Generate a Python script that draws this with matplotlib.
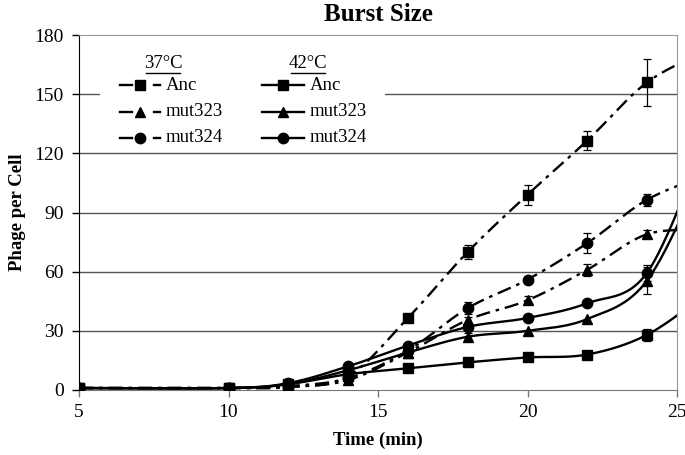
import numpy as np
import matplotlib
matplotlib.use("Agg")
import matplotlib.pyplot as plt
from matplotlib.lines import Line2D
from matplotlib.patches import Rectangle

plt.rcParams['font.family'] = ['Liberation Serif', 'DejaVu Serif']

# time points (min); the last point lies past the axis and only shapes the curve
time = [5, 10, 12, 14, 16, 18, 20, 22, 24, 26]

# 37°C
anc_37 = [1, 1, 1.5, 7, 36.5, 70, 99, 126.5, 156, 172]
mut323_37 = [1, 1, 1.5, 5, 19, 35.5, 45.5, 61, 79, 81]
mut324_37 = [1, 1, 2, 6, 20, 41.5, 56, 74.5, 96.5, 109]
anc_37_err = [0, 0, 0, 0, 1.5, 3.5, 5, 5, 12, 0]
mut323_37_err = [0, 0, 0, 0, 0, 1.5, 2, 3, 2, 0]
mut324_37_err = [0, 0, 0, 0, 0, 3, 1.5, 5, 3, 0]

# 42°C
anc_42 = [1, 1, 3, 8, 11, 14, 16.5, 18, 28, 49]
mut323_42 = [1, 1, 3, 10, 19, 27, 30, 36, 55.5, 116]
mut324_42 = [1, 1, 3.5, 12, 22.5, 32, 36.5, 44, 59.5, 128]
anc_42_err = [0, 0, 0, 0, 0, 0, 0, 0, 3, 0]
mut323_42_err = [0, 0, 0, 0, 0, 2, 0, 0, 7, 0]
mut324_42_err = [0, 0, 0, 0, 0, 0, 0, 0, 4, 0]


def smooth(x, y, n=30):
    # Excel-style smoothed line (Bezier with Catmull-Rom tangents)
    x = np.asarray(x, float)
    y = np.asarray(y, float)
    px = np.concatenate([[x[0]], x, [x[-1]]])
    py = np.concatenate([[y[0]], y, [y[-1]]])
    xs, ys = [], []
    t = np.linspace(0, 1, n)
    for i in range(1, len(px) - 2):
        p0 = np.array([px[i - 1], py[i - 1]])
        p1 = np.array([px[i], py[i]])
        p2 = np.array([px[i + 1], py[i + 1]])
        p3 = np.array([px[i + 2], py[i + 2]])
        c1 = p1 + (p2 - p0) / 6
        c2 = p2 - (p3 - p1) / 6
        b = ((1 - t) ** 3)[:, None] * p1 + (3 * (1 - t) ** 2 * t)[:, None] * c1 \
            + (3 * (1 - t) * t ** 2)[:, None] * c2 + (t ** 3)[:, None] * p2
        xs.append(b[:, 0])
        ys.append(b[:, 1])
    return np.concatenate(xs), np.concatenate(ys)


fig = plt.figure(figsize=(6.85, 4.55), dpi=100)
ax = fig.add_axes([79 / 685, 1 - 390 / 455, 598 / 685, 355 / 455])

dashdot = (0, (6, 2.5, 1.5, 2.5))
series = [
    (anc_37, anc_37_err, 's', dashdot),
    (mut323_37, mut323_37_err, '^', dashdot),
    (mut324_37, mut324_37_err, 'o', dashdot),
    (anc_42, anc_42_err, 's', '-'),
    (mut323_42, mut323_42_err, '^', '-'),
    (mut324_42, mut324_42_err, 'o', '-'),
]
for vals, err, mk, ls in series:
    sx, sy = smooth(time, vals)
    ax.plot(sx, sy, color='black', lw=1.7, linestyle=ls, zorder=3)
    e = np.array(err, float)
    ax.errorbar(time, vals, yerr=np.where(e > 0, e, np.nan), fmt=mk, color='black',
                ms=7.5, ecolor='black', elinewidth=0.9, capsize=3, capthick=0.9,
                zorder=4)

ax.set_xlim(5, 25)
ax.set_ylim(0, 180)
ax.set_xticks([5, 10, 15, 20, 25])
ax.set_yticks(range(0, 181, 30))
for yv in range(30, 151, 30):
    ax.axhline(yv, color='#555555', lw=1.0, zorder=1)
ax.tick_params(direction='out', length=5, width=1, labelsize=14)
ax.tick_params(axis='y', pad=6)
ax.tick_params(axis='x', pad=5, color='#777777')
ax.spines['left'].set_color('black')
ax.spines['bottom'].set_color('#777777')
ax.spines['top'].set_color('#999999')
ax.spines['right'].set_color('#999999')

ax.set_title('Burst Size', fontsize=18, fontweight='bold', pad=10)
ax.set_xlabel('Time (min)', fontsize=13.5, fontweight='bold', labelpad=8)
ax.set_ylabel('Phage per Cell', fontsize=13.5, fontweight='bold', labelpad=6)


# legend drawn in pixel coordinates of the figure
def fx(px):
    return px / 685


def fy(py):
    return 1 - py / 455


fig.patches.append(Rectangle((fx(100), fy(148)), fx(385) - fx(100), fy(42) - fy(148),
                             transform=fig.transFigure, facecolor='white',
                             edgecolor='none', zorder=5))
headers = [('37°C', 163, 146, 180), ('42°C', 308, 291, 325)]
for txt, cx, ux0, ux1 in headers:
    fig.text(fx(cx), fy(63), txt, ha='center', va='center', fontsize=13.5, zorder=6)
    fig.add_artist(Line2D([fx(ux0), fx(ux1)], [fy(73), fy(73)], color='black',
                          lw=1, transform=fig.transFigure, zorder=6))

names = ['Anc', 'mut323', 'mut324']
marks = ['s', '^', 'o']
rows = [85, 112, 138]
for name, mk, ry in zip(names, marks, rows):
    # 37°C sample
    fig.add_artist(Line2D([fx(120), fx(132)], [fy(ry), fy(ry)], color='black', lw=1.7,
                          transform=fig.transFigure, zorder=6))
    fig.add_artist(Line2D([fx(140)], [fy(ry)], marker=mk, ms=7.5, color='black',
                          lw=0, transform=fig.transFigure, zorder=6))
    fig.add_artist(Line2D([fx(154), fx(160)], [fy(ry), fy(ry)], color='black', lw=1.7,
                          transform=fig.transFigure, zorder=6))
    fig.text(fx(166), fy(ry), name, ha='left', va='center', fontsize=13.5, zorder=6)
    # 42°C sample
    fig.add_artist(Line2D([fx(262), fx(304)], [fy(ry), fy(ry)], color='black', lw=1.7,
                          transform=fig.transFigure, zorder=6))
    fig.add_artist(Line2D([fx(283)], [fy(ry)], marker=mk, ms=7.5, color='black',
                          lw=0, transform=fig.transFigure, zorder=6))
    fig.text(fx(310), fy(ry), name, ha='left', va='center', fontsize=13.5, zorder=6)

fig.savefig('out.png', dpi=100)
